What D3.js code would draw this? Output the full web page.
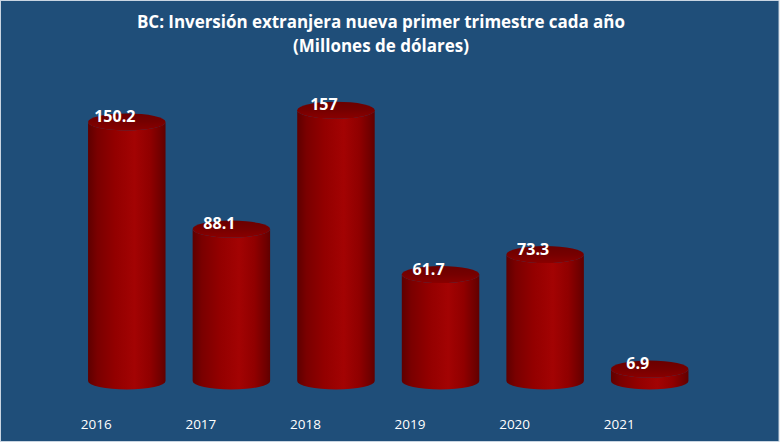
<!DOCTYPE html>
<html><head><meta charset="utf-8">
<script src="https://cdn.jsdelivr.net/npm/d3@7"></script>
<style>html,body{margin:0;padding:0;background:#ffffff;}svg{display:block;}</style>
</head><body>
<svg id="c" width="780" height="444"></svg>
<script>
const years = ["2016","2017","2018","2019","2020","2021"];
const values = [150.2, 88.1, 157, 61.7, 73.3, 6.9];
const valueLabels = ["150.2","88.1","157","61.7","73.3","6.9"];
const titleLines = ["BC: Inversión extranjera nueva primer trimestre cada año","(Millones de dólares)"];

const svg = d3.select("#c");
const W = 780, H = 444;
const defs = svg.append("defs");

const gradBody = defs.append("linearGradient").attr("id","gBody").attr("x1","0").attr("x2","1").attr("y1","0").attr("y2","0");
[[0,"#5e0000"],[0.12,"#7a0000"],[0.35,"#930000"],[0.6,"#a30303"],[0.8,"#900000"],[0.95,"#6e0000"],[1,"#600000"]]
  .forEach(([o,c])=>gradBody.append("stop").attr("offset",o).attr("stop-color",c));
const gradTop = defs.append("linearGradient").attr("id","gTop").attr("x1","0").attr("x2","0").attr("y1","0").attr("y2","1");
[[0,"#6a0000"],[0.5,"#760000"],[1,"#8a0000"]].forEach(([o,c])=>gradTop.append("stop").attr("offset",o).attr("stop-color",c));

svg.append("rect").attr("x",0.5).attr("y",0.5).attr("width",W-1.5).attr("height",441)
  .attr("fill","#1F4E79").attr("stroke","#c9d5e2").attr("stroke-width",1);

const x = d3.scaleBand().domain(years).range([74.5, 702]).paddingInner(0.259).paddingOuter(0.1295);
const y = d3.scaleLinear().domain([0,160]).range([381, 105]);
const ry = 8.5;

const g = svg.append("g");
years.forEach((yr,i)=>{
  const l = x(yr), w = x.bandwidth(), r = l + w, rx = w/2, cx = l + rx;
  const ty = y(values[i]), by = y(0);
  g.append("path")
    .attr("d",`M${l},${ty} L${l},${by} A${rx},${ry} 0 0 0 ${r},${by} L${r},${ty} A${rx},${ry} 0 0 1 ${l},${ty} Z`)
    .attr("fill","url(#gBody)");
  g.append("ellipse").attr("cx",cx).attr("cy",ty).attr("rx",rx).attr("ry",ry).attr("fill","url(#gTop)");
  g.append("text").attr("x",cx-12).attr("y",ty).attr("text-anchor","middle")
    .attr("font-family","'Open Sans', sans-serif").attr("font-weight","bold").attr("font-size",16)
    .attr("fill","#ffffff").text(valueLabels[i]);
  svg.append("text").attr("x",cx-30.5).attr("y",429).attr("text-anchor","middle")
    .attr("font-family","'Open Sans', sans-serif").attr("font-size",13.5)
    .attr("fill","#ffffff").text(yr);
});

svg.append("text").attr("x",381).attr("y",28).attr("text-anchor","middle")
  .attr("font-family","'Open Sans', sans-serif").attr("font-weight","bold").attr("font-size",17)
  .attr("fill","#ffffff").attr("textLength",488).attr("lengthAdjust","spacing").text(titleLines[0]);
svg.append("text").attr("x",381).attr("y",52).attr("text-anchor","middle")
  .attr("font-family","'Open Sans', sans-serif").attr("font-weight","bold").attr("font-size",17)
  .attr("fill","#ffffff").text(titleLines[1]);
</script>
</body></html>
